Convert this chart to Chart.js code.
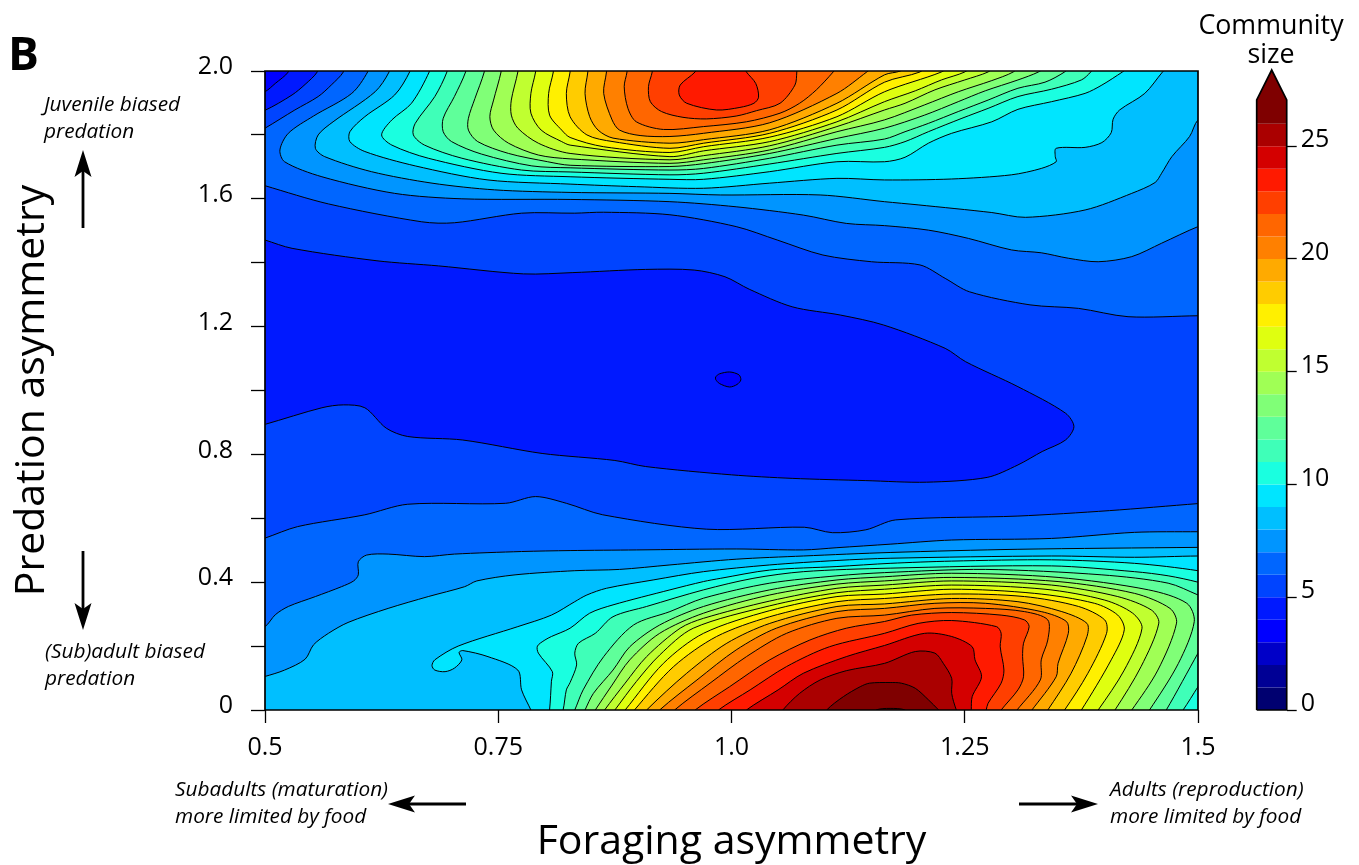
<!DOCTYPE html>
<html>
<head>
<meta charset="utf-8">
<title>Community size</title>
<script src="https://cdn.jsdelivr.net/npm/chart.js@4"></script>
<style>
html, body { margin: 0; padding: 0; background: #fff; }
body { position: relative; width: 1359px; height: 865px; overflow: hidden; font-family: "Open Sans", sans-serif; color: #000; }
canvas { position: absolute; }
#map { left: 0; top: 0; }
#bar { left: 1240px; top: 45px; }
.note { position: absolute; font-style: italic; font-size: 20.8px; line-height: 27px; white-space: nowrap; }
#panel { position: absolute; left: 8px; top: 22px; font-size: 46px; font-weight: 700; line-height: 60px; }
#barTitle { position: absolute; left: 1181px; width: 180px; top: 9px; text-align: center; font-size: 26.8px; line-height: 29px; }
svg { position: absolute; left: 0; top: 0; }
</style>
</head>
<body>
<canvas id="map" width="1359" height="865"></canvas>
<canvas id="bar" width="119" height="690"></canvas>
<div id="panel">B</div>
<div id="barTitle">Community<br>size</div>
<div class="note" style="left:44px;top:90px">Juvenile biased<br>predation</div>
<div class="note" style="left:45px;top:637px">(Sub)adult biased<br>predation</div>
<div class="note" style="left:175px;top:775px">Subadults (maturation)<br>more limited by food</div>
<div class="note" style="left:1110px;top:775px">Adults (reproduction)<br>more limited by food</div>
<svg width="1359" height="865">
  <g stroke="#000" stroke-width="2.8" fill="#000">
    <path d="M83 228V165"/><path stroke="none" d="M83 150l8.5 27-8.5-6-8.5 6z"/>
    <path d="M83 551V615"/><path stroke="none" d="M83 630l8.5-27-8.5 6-8.5-6z"/>
    <path d="M466 804H405"/><path stroke="none" d="M388 804l27-8.5-6 8.5 6 8.5z"/>
    <path d="M1019 804H1080"/><path stroke="none" d="M1098 804l-27-8.5 6 8.5-6 8.5z"/>
  </g>
</svg>
<script>
const xTicks = [0.5, 0.75, 1.0, 1.25, 1.5]
const xLabels = ["0.5", "0.75", "1.0", "1.25", "1.5"]
const yTicks = [0, 0.2, 0.4, 0.6, 0.8, 1.0, 1.2, 1.4, 1.6, 1.8, 2.0]
const yLabels = ["0", "", "0.4", "", "0.8", "", "1.2", "", "1.6", "", "2.0"]
const barTicks = [0, 5, 10, 15, 20, 25]
const barLevels = [0, 1, 2, 3, 4, 5, 6, 7, 8, 9, 10, 11, 12, 13, 14, 15, 16, 17, 18, 19, 20, 21, 22, 23, 24, 25, 26, 27.05]
const barTip = 28.38
const bandColors = ["#000070", "#000095", "#0000c8", "#0000ff", "#0019ff", "#0044ff", "#0066ff", "#0095ff", "#00bfff", "#00e5ff",
  "#1affe0", "#3fffb8", "#5fff9a", "#80ff77", "#a0ff55", "#c0ff30", "#dfff10", "#fff000", "#ffcc00", "#ffaa00",
  "#ff8000", "#ff6600", "#ff3f00", "#ff1a00", "#d40000", "#aa0000", "#7f0000"]

// low areas as [foraging, predation]
const cornerL5 = [[.556, 2.02], [.556, 1.997], [.543, 1.958], [.529, 1.925], [.5, 1.877], [.48, 1.86], [.48, 2.02]]
const cornerL4 = [[.525, 2.02], [.525, 1.997], [.511, 1.961], [.5, 1.935], [.48, 1.91], [.48, 2.02]]
const blobL5 = [[.48, 1.49], [.5, 1.471], [.529, 1.445], [.62, 1.406], [.686, 1.39], [.777, 1.365], [.83, 1.369], [.908, 1.379], [.96, 1.377], [.993, 1.356], [1.019, 1.317], [1.065, 1.262], [1.117, 1.236], [1.163, 1.205], [1.229, 1.132], [1.251, 1.09], [1.307, 1.012], [1.358, .929], [1.367, .887], [1.358, .845], [1.333, .809], [1.307, .767], [1.274, .728], [1.209, .713], [1.144, .718], [1.065, .725], [1.0, .736], [.908, .762], [.875, .781], [.797, .803], [.712, .845], [.653, .856], [.63, .882], [.607, .946], [.584, .955], [.561, .946], [.5, .894], [.48, .88]]
const blobL4 = [[.983, 1.043], [.987, 1.052], [.998, 1.058], [1.008, 1.049], [1.01, 1.033], [1.006, 1.019], [.998, 1.011], [.987, 1.022], [.983, 1.035], [.983, 1.043]]

// upper ridge
const topL6 = [[.584, 2.02], [.584, 1.997], [.571, 1.956], [.557, 1.92], [.532, 1.878], [.5, 1.821], [.48, 1.79], [.48, 1.66], [.5, 1.641], [.568, 1.584], [.668, 1.528], [.703, 1.525], [.775, 1.555], [.832, 1.555], [.863, 1.558], [.934, 1.55], [1.005, 1.513], [1.049, 1.471], [1.098, 1.424], [1.15, 1.403], [1.202, 1.393], [1.229, 1.351], [1.255, 1.309], [1.32, 1.268], [1.372, 1.257], [1.425, 1.231], [1.5, 1.234], [1.52, 1.234], [1.52, 2.02]]
const topL7 = [[.61, 2.02], [.61, 1.997], [.593, 1.93], [.552, 1.859], [.525, 1.805], [.516, 1.753], [.521, 1.716], [.561, 1.669], [.639, 1.617], [.711, 1.6], [.827, 1.598], [.934, 1.591], [1.005, 1.575], [1.077, 1.549], [1.123, 1.523], [1.164, 1.516], [1.211, 1.502], [1.254, 1.476], [1.30, 1.44], [1.332, 1.431], [1.361, 1.414], [1.393, 1.403], [1.429, 1.419], [1.461, 1.461], [1.5, 1.513], [1.52, 1.53], [1.52, 2.02]]
const topL8 = [[.633, 2.02], [.633, 1.997], [.618, 1.935], [.573, 1.841], [.557, 1.80], [.554, 1.758], [.564, 1.732], [.614, 1.685], [.679, 1.649], [.746, 1.628], [.827, 1.62], [.934, 1.617], [.988, 1.612], [1.095, 1.612], [1.164, 1.591], [1.2, 1.581], [1.279, 1.557], [1.315, 1.542], [1.379, 1.565], [1.429, 1.617], [1.454, 1.651], [1.461, 1.68], [1.472, 1.732], [1.491, 1.795], [1.5, 1.847], [1.52, 1.88], [1.52, 2.02]]
const topL9 = [[.655, 2.02], [.655, 1.997], [.639, 1.925], [.607, 1.857], [.591, 1.81], [.591, 1.779], [.607, 1.748], [.661, 1.703], [.739, 1.659], [.827, 1.646], [.898, 1.638], [.970, 1.633], [1.041, 1.649], [1.113, 1.664], [1.164, 1.659], [1.236, 1.662], [1.30, 1.675], [1.332, 1.695], [1.348, 1.716], [1.347, 1.732], [1.348, 1.758], [1.379, 1.761], [1.397, 1.776], [1.407, 1.807], [1.409, 1.849], [1.416, 1.878], [1.443, 1.93], [1.462, 1.997], [1.47, 2.02]]
const topL10 = [[.676, 2.02], [.676, 1.997], [.657, 1.899], [.636, 1.847], [.625, 1.80], [.636, 1.768], [.675, 1.727], [.753, 1.68], [.827, 1.669], [.934, 1.661], [.970, 1.661], [1.041, 1.685], [1.113, 1.716], [1.164, 1.716], [1.186, 1.73], [1.211, 1.774], [1.236, 1.805], [1.279, 1.841], [1.307, 1.88], [1.343, 1.904], [1.379, 1.93], [1.397, 1.956], [1.419, 1.997], [1.43, 2.02]]
const topL11 = [[.695, 2.02], [.695, 1.997], [.682, 1.92], [.661, 1.836], [.659, 1.80], [.671, 1.768], [.711, 1.727], [.775, 1.69], [.827, 1.684], [.934, 1.675], [.970, 1.68], [1.041, 1.709], [1.113, 1.742], [1.164, 1.761], [1.186, 1.779], [1.211, 1.81], [1.247, 1.852], [1.275, 1.883], [1.307, 1.92], [1.343, 1.943], [1.375, 1.972], [1.385, 1.997], [1.39, 2.02]]
const topL12 = [[.715, 2.02], [.715, 1.997], [.703, 1.92], [.691, 1.852], [.691, 1.81], [.70, 1.779], [.732, 1.74], [.786, 1.703], [.827, 1.697], [.934, 1.69], [.970, 1.695], [1.041, 1.727], [1.113, 1.768], [1.164, 1.787], [1.186, 1.81], [1.211, 1.836], [1.243, 1.873], [1.275, 1.909], [1.307, 1.946], [1.336, 1.965], [1.357, 1.997], [1.365, 2.02]]
const topL13 = [[.735, 2.02], [.735, 1.997], [.725, 1.914], [.718, 1.852], [.718, 1.815], [.728, 1.779], [.761, 1.742], [.803, 1.716], [.827, 1.705], [.934, 1.701], [.970, 1.71], [1.041, 1.742], [1.113, 1.789], [1.164, 1.821], [1.207, 1.862], [1.243, 1.904], [1.272, 1.938], [1.307, 1.972], [1.329, 1.997], [1.34, 2.02]]
const topL14 = [[.753, 2.02], [.753, 1.997], [.745, 1.909], [.741, 1.857], [.745, 1.815], [.761, 1.774], [.793, 1.737], [.827, 1.725], [.934, 1.711], [.970, 1.722], [1.041, 1.753], [1.113, 1.81], [1.164, 1.847], [1.207, 1.894], [1.243, 1.935], [1.279, 1.97], [1.302, 1.997], [1.31, 2.02]]
const topL15 = [[.771, 2.02], [.771, 1.997], [.764, 1.909], [.764, 1.862], [.771, 1.821], [.793, 1.774], [.827, 1.742], [.934, 1.722], [.970, 1.735], [1.041, 1.766], [1.113, 1.826], [1.164, 1.878], [1.186, 1.899], [1.218, 1.941], [1.25, 1.972], [1.275, 1.997], [1.285, 2.02]]
const topL16 = [[.79, 2.02], [.79, 1.997], [.785, 1.93], [.785, 1.868], [.796, 1.815], [.818, 1.779], [.827, 1.768], [.934, 1.732], [.970, 1.75], [1.041, 1.779], [1.113, 1.841], [1.164, 1.904], [1.197, 1.938], [1.225, 1.972], [1.25, 1.997], [1.26, 2.02]]
const topL17 = [[.809, 2.02], [.809, 1.997], [.804, 1.93], [.805, 1.862], [.818, 1.815], [.827, 1.792], [.863, 1.763], [.934, 1.745], [.970, 1.763], [1.041, 1.793], [1.113, 1.857], [1.164, 1.935], [1.225, 1.997], [1.235, 2.02]]
const topL18 = [[.827, 2.02], [.827, 1.997], [.823, 1.93], [.827, 1.857], [.845, 1.80], [.873, 1.779], [.934, 1.758], [.970, 1.774], [1.041, 1.805], [1.113, 1.878], [1.164, 1.965], [1.202, 1.997], [1.21, 2.02]]
const topL19 = [[.846, 2.02], [.846, 1.997], [.843, 1.93], [.848, 1.857], [.857, 1.815], [.873, 1.79], [.934, 1.774], [.970, 1.785], [1.041, 1.816], [1.113, 1.899], [1.164, 1.988], [1.181, 2.0], [1.19, 2.02]]
const topL20 = [[.866, 2.02], [.866, 1.997], [.863, 1.93], [.872, 1.847], [.880, 1.815], [.902, 1.798], [.934, 1.795], [.970, 1.805], [1.041, 1.838], [1.113, 1.93], [1.145, 1.997], [1.155, 2.02]]
const topL21 = [[.888, 2.02], [.888, 1.997], [.885, 1.951], [.889, 1.883], [.898, 1.841], [.927, 1.817], [.970, 1.826], [1.016, 1.841], [1.052, 1.868], [1.073, 1.899], [1.091, 1.941], [1.109, 1.997], [1.115, 2.02]]
const topL22 = [[.915, 2.02], [.915, 1.997], [.911, 1.951], [.913, 1.904], [.925, 1.873], [.948, 1.855], [.973, 1.85], [1.005, 1.859], [1.027, 1.876], [1.052, 1.899], [1.068, 1.956], [1.070, 1.997], [1.07, 2.02]]
const topL23 = [[.965, 2.02], [.961, 1.997], [.945, 1.956], [.944, 1.925], [.952, 1.899], [.984, 1.878], [1.009, 1.886], [1.024, 1.899], [1.029, 1.918], [1.026, 1.961], [1.016, 1.997], [1.012, 2.02]]

// lower ridge
const lowL6 = [[.48, -.02], [.48, .52], [.5, .538], [.535, .574], [.607, .611], [.653, .644], [.758, .647], [.79, .668], [.823, .647], [.862, .611], [.973, .566], [1.078, .572], [1.108, .555], [1.144, .564], [1.176, .595], [1.307, .607], [1.405, .624], [1.5, .646], [1.52, .65], [1.52, -.02]]
const lowL7 = [[.48, -.02], [.48, .24], [.5, .261], [.511, .298], [.525, .324], [.554, .355], [.582, .386], [.595, .404], [.6, .423], [.6, .464], [.609, .485], [.632, .488], [.671, .48], [.703, .488], [.775, .496], [.827, .499], [.898, .501], [1.005, .504], [1.077, .501], [1.113, .508], [1.17, .519], [1.236, .532], [1.343, .537], [1.432, .556], [1.5, .558], [1.52, .558], [1.52, -.02]]
const lowL8 = [[.48, -.02], [.48, .09], [.5, .105], [.521, .125], [.543, .159], [.552, .204], [.568, .24], [.589, .274], [.632, .318], [.675, .355], [.714, .386], [.727, .404], [.768, .423], [.832, .436], [.88, .44], [.934, .454], [1.005, .472], [1.077, .482], [1.17, .493], [1.307, .503], [1.5, .509], [1.52, .509], [1.52, -.02]]
const lowL9 = [[.788, -.02], [.785, 0], [.775, .063], [.771, .125], [.739, .167], [.712, .186], [.708, .18], [.711, .157], [.703, .131], [.693, .12], [.682, .125], [.679, .139], [.682, .157], [.707, .2], [.771, .261], [.807, .297], [.832, .339], [.845, .36], [.866, .381], [.916, .407], [.97, .433], [1.041, .454], [1.113, .468], [1.17, .475], [1.343, .482], [1.432, .478], [1.5, .482], [1.52, .48], [1.52, -.02]]
const lowL10 = [[.803, -.02], [.805, 0], [.807, .09], [.808, .12], [.793, .178], [.792, .2], [.80, .219], [.807, .23], [.827, .256], [.848, .303], [.873, .329], [.934, .376], [.97, .402], [.988, .412], [1.041, .438], [1.113, .449], [1.17, .459], [1.236, .466], [1.343, .47], [1.432, .459], [1.5, .436], [1.52, .42], [1.52, -.02]]
const lowL11 = [[.816, -.02], [.8195, 0], [.823, .063], [.827, .086], [.834, .141], [.832, .178], [.836, .209], [.854, .24], [.873, .292], [.909, .324], [.97, .376], [1.023, .412], [1.077, .433], [1.17, .444], [1.343, .451], [1.432, .433], [1.468, .42], [1.5, .4], [1.52, .38], [1.52, .165], [1.5, .073], [1.484, 0], [1.478, -.02]]
const lowL12 = [[.828, -.02], [.832, 0], [.841, .063], [.863, .167], [.895, .266], [.934, .308], [.970, .350], [1.041, .397], [1.113, .42], [1.164, .43], [1.272, .44], [1.397, .423], [1.468, .397], [1.5, .36], [1.52, .335], [1.52, .28], [1.5, .178], [1.466, 0], [1.46, -.02]]
const lowL13 = [[.84, -.02], [.843, 0], [.852, .052], [.873, .125], [.891, .198], [.923, .266], [.970, .324], [1.041, .376], [1.113, .407], [1.164, .417], [1.236, .428], [1.35, .415], [1.447, .376], [1.488, .334], [1.496, .277], [1.479, .146], [1.448, 0], [1.441, -.02]]
const lowL14 = [[.85, -.02], [.854, 0], [.872, .078], [.891, .157], [.923, .240], [.970, .303], [1.041, .360], [1.113, .394], [1.164, .404], [1.236, .415], [1.35, .402], [1.432, .365], [1.47, .318], [1.477, .272], [1.457, .125], [1.429, 0], [1.422, -.02]]
const lowL15 = [[.86, -.02], [.864, 0], [.886, .084], [.909, .167], [.945, .256], [.970, .287], [1.041, .341], [1.113, .381], [1.164, .391], [1.236, .404], [1.343, .391], [1.414, .355], [1.45, .313], [1.458, .272], [1.439, .136], [1.411, 0], [1.404, -.02]]
const lowL16 = [[.87, -.02], [.875, 0], [.898, .089], [.923, .172], [.959, .256], [1.041, .326], [1.113, .367], [1.164, .378], [1.236, .391], [1.336, .378], [1.40, .344], [1.43, .303], [1.44, .256], [1.421, .125], [1.393, 0], [1.386, -.02]]
const lowL17 = [[.88, -.02], [.886, 0], [.927, .146], [.970, .240], [1.041, .311], [1.113, .355], [1.164, .363], [1.236, .378], [1.325, .365], [1.389, .334], [1.414, .297], [1.421, .251], [1.407, .157], [1.375, 0], [1.368, -.02]]
const lowL18 = [[.892, -.02], [.896, 0], [.938, .136], [.984, .230], [1.041, .292], [1.113, .339], [1.164, .349], [1.236, .363], [1.314, .355], [1.372, .324], [1.40, .282], [1.402, .240], [1.382, .115], [1.357, 0], [1.35, -.02]]
const lowL19 = [[.905, -.02], [.909, 0], [.952, .115], [.995, .209], [1.041, .271], [1.113, .324], [1.164, .332], [1.236, .349], [1.307, .339], [1.354, .308], [1.381, .271], [1.381, .230], [1.364, .115], [1.339, 0], [1.333, -.02]]
const lowL20 = [[.92, -.02], [.923, 0], [.963, .094], [1.005, .188], [1.048, .256], [1.113, .308], [1.164, .318], [1.218, .334], [1.272, .334], [1.332, .308], [1.359, .277], [1.361, .240], [1.35, .146], [1.348, .104], [1.322, 0], [1.316, -.02]]
const lowL21 = [[.935, -.02], [.939, 0], [.977, .084], [1.016, .167], [1.059, .24], [1.113, .287], [1.164, .297], [1.218, .318], [1.272, .318], [1.314, .308], [1.339, .282], [1.339, .219], [1.332, .157], [1.331, .094], [1.306, 0], [1.3, -.02]]
const lowL22 = [[.957, -.02], [.961, 0], [.998, .073], [1.041, .157], [1.084, .219], [1.123, .256], [1.164, .277], [1.193, .297], [1.236, .305], [1.289, .297], [1.314, .282], [1.319, .261], [1.313, .209], [1.312, .167], [1.313, .104], [1.307, .063], [1.289, 0], [1.285, -.02]]
const lowL23 = [[.982, -.02], [.986, 0], [1.02, .063], [1.059, .136], [1.105, .198], [1.164, .24], [1.2, .271], [1.236, .28], [1.284, .261], [1.289, .240], [1.288, .198], [1.292, .125], [1.289, .084], [1.275, .021], [1.273, 0], [1.271, -.02]]
const lowL24 = [[1.012, -.02], [1.016, 0], [1.05, .063], [1.077, .115], [1.123, .167], [1.164, .202], [1.207, .24], [1.236, .23], [1.258, .198], [1.261, .157], [1.268, .104], [1.258, .042], [1.257, 0], [1.257, -.02]]
const lowL25 = [[1.052, -.02], [1.055, 0], [1.073, .052], [1.095, .094], [1.123, .123], [1.164, .146], [1.197, .183], [1.218, .178], [1.227, .146], [1.236, .099], [1.236, .052], [1.241, 0], [1.245, -.02]]
const lowL26 = [[1.10, -.02], [1.102, 0], [1.12, .042], [1.138, .073], [1.148, .084], [1.17, .086], [1.182, .084], [1.197, .068], [1.211, .032], [1.222, 0], [1.228, -.02]]
const lowL27 = [[1.15, -.02], [1.155, 0], [1.17, .005], [1.186, 0], [1.19, -.02]]

// band colour index, outline; painted in this order
const contours = [
  [4, cornerL5], [3, cornerL4], [4, blobL5], [3, blobL4],
  [6, topL6], [6, lowL6], [7, topL7], [7, lowL7], [8, topL8], [8, lowL8], [9, topL9], [9, lowL9],
  [10, topL10], [10, lowL10], [11, topL11], [11, lowL11], [12, topL12], [12, lowL12], [13, topL13], [13, lowL13],
  [14, topL14], [14, lowL14], [15, topL15], [15, lowL15], [16, topL16], [16, lowL16], [17, topL17], [17, lowL17],
  [18, topL18], [18, lowL18], [19, topL19], [19, lowL19], [20, topL20], [20, lowL20], [21, topL21], [21, lowL21],
  [22, topL22], [22, lowL22], [23, topL23], [23, lowL23], [24, lowL24], [25, lowL25], [26, lowL26], [26, lowL27]
]

const toPoints = list => list.map(p => ({ x: p[0], y: p[1] }))
const xMin = xTicks[0], xMax = xTicks[xTicks.length - 1]
const yMin = yTicks[0], yMax = yTicks[yTicks.length - 1]
const framePoints = [[xMin, yMin], [xMax, yMin], [xMax, yMax], [xMin, yMax], [xMin, yMin]]

const mapSets = []
mapSets.push({ data: toPoints(framePoints), backgroundColor: bandColors[5], borderWidth: 0, fill: "shape", tension: 0 })
contours.forEach(c => {
  mapSets.push({ data: toPoints(c[1]), backgroundColor: bandColors[c[0]], borderColor: "#000", borderWidth: 1, fill: "shape", tension: 0.3 })
})
mapSets.push({ data: toPoints(framePoints), borderColor: "#000", borderWidth: 1.7, fill: false, tension: 0, clip: false })
mapSets.forEach((d, i) => { d.order = mapSets.length - i; d.showLine = true; d.pointRadius = 0 })

new Chart(document.getElementById("map"), {
  type: "scatter",
  data: { datasets: mapSets },
  options: {
    responsive: false,
    animation: false,
    capBezierPoints: false,
    layout: { padding: { left: 0, top: 71, right: 161, bottom: 0 } },
    plugins: { legend: { display: false }, tooltip: { enabled: false } },
    scales: {
      x: {
        type: "linear", min: xMin, max: xMax,
        afterBuildTicks: s => { s.ticks = xTicks.map(v => ({ value: v })) },
        afterFit: s => { s.height = 155 },
        grid: { drawOnChartArea: false, tickLength: 13, tickColor: "#000", tickWidth: 1.3 },
        border: { display: false },
        ticks: { autoSkip: false, maxRotation: 0, color: "#000", padding: 10, font: { family: "Open Sans", size: 25 }, callback: (v, i) => xLabels[i] },
        title: { display: true, text: "Foraging asymmetry", color: "#000", font: { family: "Open Sans", size: 41 }, padding: { top: 0, bottom: -2 } }
      },
      y: {
        type: "linear", min: yMin, max: yMax,
        afterBuildTicks: s => { s.ticks = yTicks.map(v => ({ value: v })) },
        afterFit: s => { s.width = 265 },
        grid: { drawOnChartArea: false, tickLength: 14, tickColor: "#000", tickWidth: 1.3 },
        border: { display: false },
        ticks: { autoSkip: false, color: "#000", padding: 18, labelOffset: -4, font: { family: "Open Sans", size: 25 }, callback: (v, i) => yLabels[i] },
        title: { display: true, text: "Predation asymmetry", color: "#000", font: { family: "Open Sans", size: 41 }, padding: { top: 8, bottom: 0 } }
      }
    }
  }
})

// colour key
const keySets = []
barLevels.slice(0, -1).forEach((lo, i) => {
  const hi = barLevels[i + 1]
  const isTop = i === barLevels.length - 2
  const shape = isTop ? [[0, lo], [1, lo], [1, hi], [0.5, barTip], [0, hi]] : [[0, lo], [1, lo], [1, hi], [0, hi]]
  keySets.push({ data: toPoints(shape), backgroundColor: bandColors[i], borderWidth: 0, fill: "shape", tension: 0 })
})
const keyTop = barLevels[barLevels.length - 1]
keySets.push({ data: toPoints([[0, 0], [1, 0], [1, keyTop], [0.5, barTip], [0, keyTop], [0, 0]]), borderColor: "#000", borderWidth: 1.7, fill: false, tension: 0, clip: false })
keySets.forEach((d, i) => { d.order = keySets.length - i; d.showLine = true; d.pointRadius = 0 })

new Chart(document.getElementById("bar"), {
  type: "scatter",
  data: { datasets: keySets },
  options: {
    responsive: false,
    animation: false,
    layout: { padding: { left: 16.7, top: 25, right: 0, bottom: 25 } },
    plugins: { legend: { display: false }, tooltip: { enabled: false } },
    scales: {
      x: { type: "linear", min: 0, max: 1, display: false },
      y: {
        type: "linear", position: "right", min: 0, max: barTip,
        afterBuildTicks: s => { s.ticks = barTicks.map(v => ({ value: v })) },
        afterFit: s => { s.width = 72.3 },
        grid: { drawOnChartArea: false, tickLength: 10, tickColor: "#000", tickWidth: 1.3 },
        border: { display: false },
        ticks: { autoSkip: false, color: "#000", padding: 4, labelOffset: -6, font: { family: "Open Sans", size: 25 }, callback: v => String(v) }
      }
    }
  }
})
</script>
</body>
</html>
